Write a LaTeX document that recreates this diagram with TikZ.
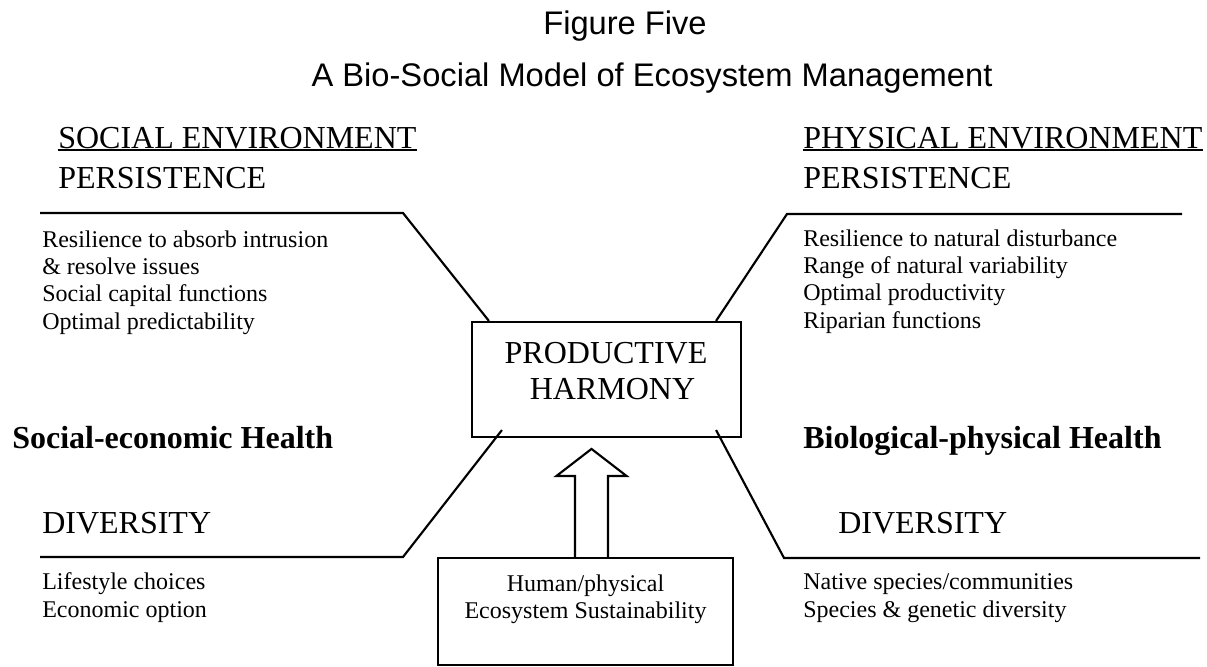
\documentclass[tikz,border=0pt]{standalone}
\usepackage{fontspec}
\setmainfont{Liberation Serif}
\newfontfamily\titlefont{Liberation Sans}
\usetikzlibrary{calc}
\tikzset{
  bar/.style={line width=1.6pt},
  panel/.style={draw, line width=1.6pt, inner sep=0pt},
  titletext/.style={font=\titlefont\fontsize{24.5}{29}\selectfont, inner sep=0pt, anchor=base},
  heading/.style={font=\fontsize{24}{28}\selectfont, inner sep=0pt, anchor=base west},
  health/.style={font=\bfseries\fontsize{24}{28}\selectfont, inner sep=0pt, anchor=base west},
  itemlist/.style={font=\fontsize{18}{20.5}\selectfont, inner sep=0pt, align=left, anchor=base west},
  boxlabel/.style={font=\fontsize{18}{20.25}\selectfont, inner sep=0pt, align=center, anchor=base},
}
\begin{document}
\begin{tikzpicture}[x=0.75pt,y=-0.75pt]
\useasboundingbox (0,0) rectangle (1207,667);
% title
\node[titletext] (fig) at (625,35) {Figure Five};
\node[titletext] (sub) at (652,87) {A Bio-Social Model of Ecosystem Management};
% social side
\node[heading] (soc) at (58,148) {SOCIAL ENVIRONMENT};
\draw[bar, line width=1.2pt] ($(soc.base west)+(0,2)$) -- ($(soc.base east)+(0,2)$);
\node[heading] (socp) at (58,188) {PERSISTENCE};
\node[itemlist] (soclist) at (42,329) {Resilience to absorb intrusion\\ \& resolve issues\\ Social capital functions\\ Optimal predictability};
% physical side
\node[heading] (phy) at (803,148) {PHYSICAL ENVIRONMENT};
\draw[bar, line width=1.2pt] ($(phy.base west)+(0,2)$) -- ($(phy.base east)+(0,2)$);
\node[heading] (phyp) at (803,188) {PERSISTENCE};
\node[itemlist] (phylist) at (803,328) {Resilience to natural disturbance\\ Range of natural variability\\ Optimal productivity\\ Riparian functions};
% centre box
\node[panel, minimum width=201.75pt, minimum height=86.25pt] (ph) at (606.5,379.5) {};
\node[heading, anchor=base] (prod) at (606,363) {PRODUCTIVE};
\node[heading, anchor=base] (harm) at (612.5,399) {HARMONY};
% health
\node[health] (seh) at (12,448) {Social-economic Health};
\node[health] (bph) at (803,448) {Biological-physical Health};
% diversity
\node[heading] (sdiv) at (42,533) {DIVERSITY};
\node[heading] (pdiv) at (838,533) {DIVERSITY};
\node[itemlist] (sdlist) at (42,617) {Lifestyle choices\\ Economic option};
\node[itemlist] (pdlist) at (803,617) {Native species/communities\\ Species \& genetic diversity};
% bottom box
\node[panel, minimum width=221.25pt, minimum height=80.25pt] (sb) at (585.5,611.5) {};
\node[boxlabel] (sbt) at (585.5,618) {Human/physical\\ Ecosystem Sustainability};
% bent lines
\coordinate (tl) at (40,213);
\coordinate (tlk) at (403,213);
\draw[bar] (tl) -- (tlk) -- ($(ph.north west)+(18,0)$);
\coordinate (tr) at (1182,214);
\coordinate (trk) at (787,214);
\draw[bar] (tr) -- (trk) -- ($(ph.north east)+(-26,0)$);
\coordinate (bl) at (40,557);
\coordinate (blk) at (403,557);
\draw[bar] (bl) -- (blk) -- ($(ph.south west)+(31,-8)$);
\coordinate (br) at (1200,558);
\coordinate (brk) at (784,558);
\draw[bar] (br) -- (brk) -- ($(ph.south east)+(-26,-8)$);
% hollow arrow
\coordinate (arr) at ($(sb.north)+(6,0)$);
\draw[bar, line join=miter] ($(arr)+(-16.5,0)$) -- ++(0,-81) -- ++(-18.5,0) -- ($(arr)+(0,-108)$) -- ($(arr)+(35,-81)$) -- ++(-18.5,0) -- ($(arr)+(16.5,0)$);
\end{tikzpicture}
\end{document}
